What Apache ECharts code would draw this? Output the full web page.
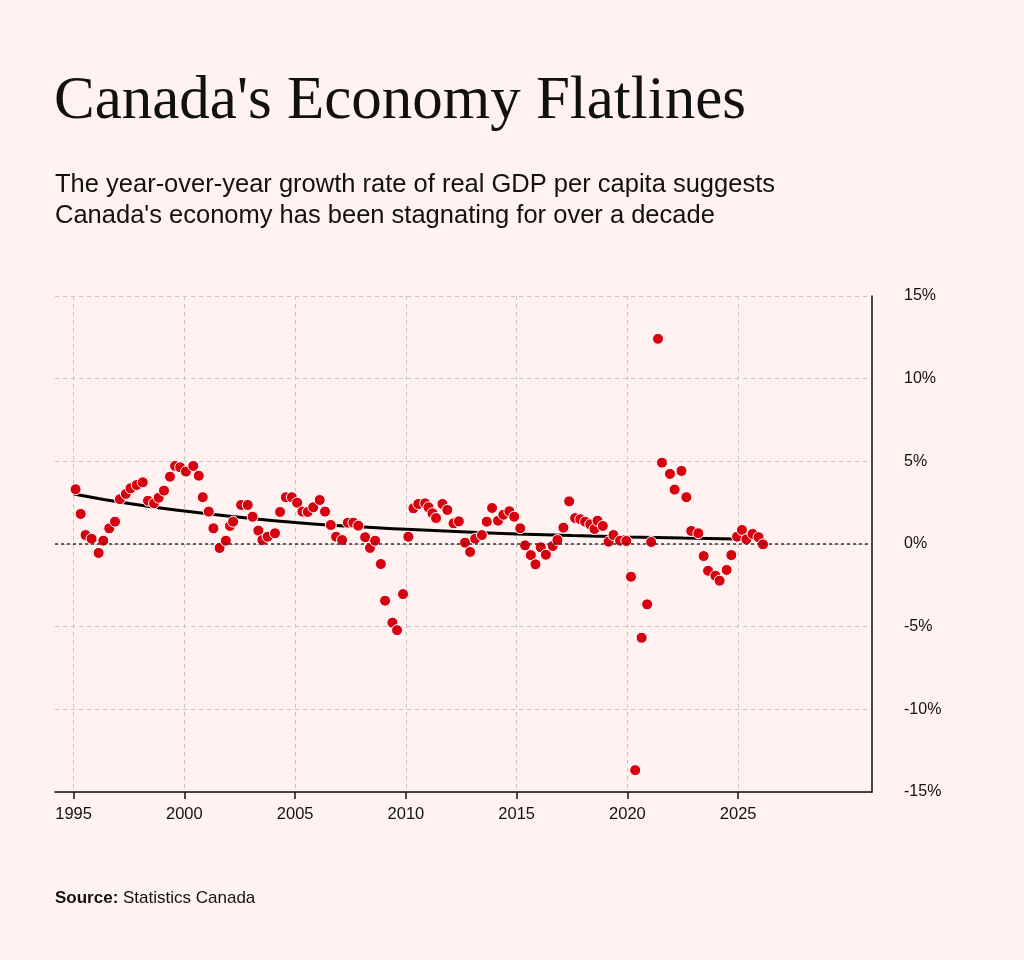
<!DOCTYPE html>
<html lang="en" style="height: 100%">
<head>
  <meta charset="utf-8">
</head>
<body style="height: 100%; margin: 0; background: #fff2f1">
  <div id="container" style="width: 1024px; height: 960px"></div>

  <script type="text/javascript" src="https://cdn.jsdelivr.net/npm/echarts@6/dist/echarts.min.js"></script>
  <script type="text/javascript">
    // quarterly YoY growth of real GDP per capita (%)
    var years = [
      1995.09, 1995.32, 1995.54, 1995.81, 1996.13, 1996.34, 1996.61, 1996.87,
      1997.09, 1997.36, 1997.57, 1997.85, 1998.12, 1998.36, 1998.63, 1998.84,
      1999.08, 1999.35, 1999.58, 1999.81, 2000.07, 2000.40, 2000.65, 2000.83,
      2001.10, 2001.31, 2001.59, 2001.87, 2002.06, 2002.20, 2002.56, 2002.86,
      2003.08, 2003.34, 2003.52, 2003.76, 2004.09, 2004.32, 2004.58, 2004.85,
      2005.09, 2005.33, 2005.57, 2005.82, 2006.11, 2006.35, 2006.61, 2006.85,
      2007.12, 2007.38, 2007.63, 2007.85, 2008.16, 2008.38, 2008.61, 2008.87,
      2009.06, 2009.39, 2009.60, 2009.87, 2010.11, 2010.34, 2010.56, 2010.87,
      2011.02, 2011.20, 2011.36, 2011.65, 2011.87, 2012.15, 2012.39, 2012.67,
      2012.90, 2013.13, 2013.43, 2013.65, 2013.89, 2014.16, 2014.40, 2014.67,
      2014.89, 2015.16, 2015.38, 2015.64, 2015.85, 2016.09, 2016.32, 2016.63,
      2016.84, 2017.11, 2017.37, 2017.64, 2017.87, 2018.09, 2018.32, 2018.51,
      2018.65, 2018.89, 2019.15, 2019.37, 2019.67, 2019.95, 2020.16, 2020.35,
      2020.64, 2020.89, 2021.07, 2021.38, 2021.56, 2021.92, 2022.13, 2022.44,
      2022.66, 2022.88, 2023.20, 2023.44, 2023.64, 2023.97, 2024.16, 2024.48,
      2024.69, 2024.95, 2025.17, 2025.37, 2025.65, 2025.92, 2026.12
    ];
    var growth = [
      3.31, 1.82, 0.54, 0.32, -0.54, 0.20, 0.95, 1.35,
      2.71, 3.03, 3.37, 3.57, 3.73, 2.62, 2.46, 2.80,
      3.23, 4.07, 4.72, 4.64, 4.38, 4.72, 4.13, 2.83,
      1.96, 0.95, -0.24, 0.20, 1.09, 1.35, 2.36, 2.36,
      1.65, 0.81, 0.24, 0.44, 0.65, 1.94, 2.83, 2.83,
      2.50, 1.96, 1.94, 2.22, 2.66, 1.96, 1.15, 0.44,
      0.24, 1.29, 1.29, 1.11, 0.41, -0.24, 0.20, -1.21,
      -3.43, -4.76, -5.21, -3.03, 0.44, 2.16, 2.42, 2.46,
      2.22, 1.86, 1.57, 2.42, 2.06, 1.25, 1.37, 0.08,
      -0.48, 0.32, 0.54, 1.35, 2.18, 1.41, 1.77, 1.98,
      1.65, 0.95, -0.08, -0.67, -1.23, -0.20, -0.65, -0.12,
      0.24, 0.99, 2.58, 1.57, 1.50, 1.35, 1.19, 0.91,
      1.41, 1.09, 0.14, 0.54, 0.20, 0.18, -1.98, -13.68,
      -5.67, -3.65, 0.12, 12.41, 4.92, 4.24, 3.29, 4.42,
      2.83, 0.79, 0.65, -0.73, -1.62, -1.92, -2.22, -1.57,
      -0.67, 0.44, 0.85, 0.28, 0.61, 0.41, -0.02
    ];

    // fitted trend curve, read at a few points
    var trendYears = [1995, 1997.5, 2000, 2002.5, 2005, 2007.5, 2010, 2012.5, 2015, 2017.5, 2020, 2022.5, 2024.9];
    var trendValues = [3.03, 2.45, 2.0, 1.62, 1.3, 1.07, 0.89, 0.74, 0.61, 0.51, 0.43, 0.36, 0.3];

    var yearTicks = [1995, 2000, 2005, 2010, 2015, 2020, 2025];

    var dom = document.getElementById('container');
    var myChart = echarts.init(dom, null, { renderer: 'canvas' });

    var points = years.map(function (y, i) { return [y, growth[i]]; });
    var trend = trendYears.map(function (y, i) { return [y, trendValues[i]]; });

    var sans = 'Liberation Sans, Arial, sans-serif';

    var option = {
      backgroundColor: '#fff2f1',
      animation: false,
      title: [
        {
          text: "Canada's Economy Flatlines",
          left: 54,
          top: 71,
          padding: 0,
          textStyle: { fontFamily: 'Liberation Serif, Times New Roman, serif', fontSize: 61, fontWeight: 'normal', color: '#111' }
        },
        {
          text: "The year-over-year growth rate of real GDP per capita suggests\nCanada's economy has been stagnating for over a decade",
          left: 55,
          top: 169,
          padding: 0,
          textStyle: { fontFamily: sans, fontSize: 25.5, fontWeight: 'normal', color: '#111', lineHeight: 31 }
        },
        {
          text: '{b|Source:} Statistics Canada',
          left: 55,
          top: 890,
          padding: 0,
          textStyle: {
            fontFamily: sans, fontSize: 17, fontWeight: 'normal', color: '#111',
            rich: { b: { fontFamily: sans, fontSize: 17, fontWeight: 'bold', color: '#111' } }
          }
        }
      ],
      grid: { left: 55, right: 152, top: 296, bottom: 168 },
      xAxis: {
        type: 'value',
        min: 1994.16,
        max: 2031.04,
        axisLine: { onZero: false, lineStyle: { color: '#111', width: 1.5 } },
        axisTick: { show: true, length: 7, customValues: yearTicks, lineStyle: { color: '#111', width: 1.5 } },
        axisLabel: {
          customValues: yearTicks,
          margin: 14,
          fontFamily: sans, fontSize: 16.5, color: '#111',
          formatter: function (v) { return String(v); }
        },
        splitLine: { show: true, lineStyle: { color: '#c9c4c4', type: [4, 4], width: 1 } }
      },
      yAxis: {
        type: 'value',
        position: 'right',
        min: -15,
        max: 15,
        interval: 5,
        axisLine: { show: true, lineStyle: { color: '#111', width: 1.5 } },
        axisTick: { show: false },
        axisLabel: {
          margin: 32,
          fontFamily: sans, fontSize: 16, color: '#111',
          formatter: '{value}%'
        },
        splitLine: { show: true, lineStyle: { color: '#c9c4c4', type: [4, 4], width: 1 } }
      },
      series: [
        {
          type: 'line',
          data: trend,
          smooth: true,
          showSymbol: false,
          z: 3,
          lineStyle: { color: '#000', width: 3 },
          markLine: {
            silent: true,
            symbol: 'none',
            label: { show: false },
            lineStyle: { color: '#333', type: [3, 3], width: 1.5 },
            data: [{ yAxis: 0 }]
          }
        },
        {
          type: 'scatter',
          data: points,
          symbolSize: 11,
          z: 4,
          itemStyle: { color: '#d6000f', borderColor: '#fff', borderWidth: 1, opacity: 1 }
        }
      ]
    };

    myChart.setOption(option);
    window.addEventListener('resize', myChart.resize);
  </script>
</body>
</html>
